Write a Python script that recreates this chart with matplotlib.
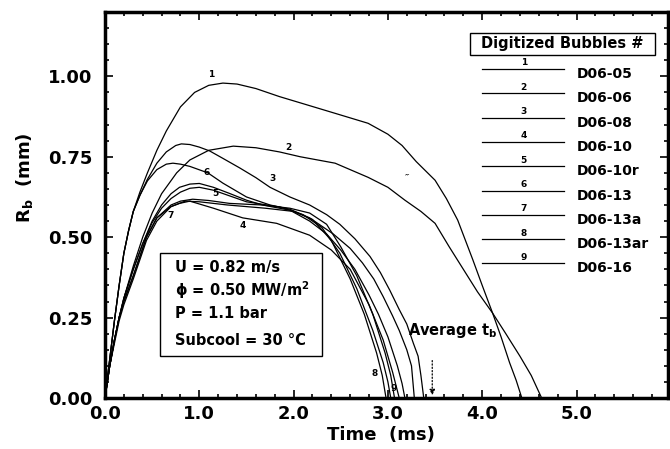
import numpy as np
import matplotlib
matplotlib.use("Agg")
import matplotlib.pyplot as plt
from matplotlib.ticker import MultipleLocator, FormatStrFormatter
from matplotlib.patches import Rectangle
from matplotlib.lines import Line2D

plt.rcParams['font.family'] = ['DejaVu Sans']
plt.rcParams['font.weight'] = 'bold'
plt.rcParams['mathtext.default'] = 'bf'

# ---------- Data ----------
BUBBLE_IDS = ['D06-05', 'D06-06', 'D06-08', 'D06-10', 'D06-10r',
              'D06-13', 'D06-13a', 'D06-13ar', 'D06-16']

t1 = [0, 0.05, 0.1, 0.15, 0.2, 0.25, 0.3, 0.37, 0.45, 0.55, 0.65, 0.8, 0.95, 1.1, 1.25,
      1.4, 1.6, 1.85, 2.1, 2.44, 2.79, 3.0, 3.15, 3.3, 3.5, 3.62, 3.74, 3.9, 4.0, 4.11,
      4.2, 4.29, 4.36, 4.42]
r1 = [0, 0.12, 0.24, 0.35, 0.45, 0.52, 0.58, 0.64, 0.70, 0.77, 0.83, 0.905, 0.95, 0.972, 0.979,
      0.976, 0.962, 0.937, 0.915, 0.885, 0.854, 0.82, 0.785, 0.735, 0.677, 0.62, 0.553, 0.43, 0.35, 0.264,
      0.19, 0.11, 0.055, 0]

t2 = [0, 0.05, 0.1, 0.15, 0.2, 0.3, 0.4, 0.5, 0.6, 0.76, 0.9, 1.1, 1.36, 1.6, 1.85, 2.07,
      2.44, 2.79, 3.0, 3.18, 3.35, 3.5, 3.65, 3.8, 3.95, 4.11, 4.25, 4.4, 4.52, 4.63]
r2 = [0, 0.1, 0.18, 0.25, 0.31, 0.41, 0.50, 0.575, 0.635, 0.70, 0.74, 0.77, 0.783, 0.778, 0.765, 0.75,
      0.73, 0.686, 0.655, 0.615, 0.58, 0.543, 0.47, 0.40, 0.33, 0.264, 0.20, 0.13, 0.07, 0]

t3 = [0, 0.05, 0.1, 0.15, 0.2, 0.25, 0.3, 0.37, 0.45, 0.55, 0.65, 0.75, 0.81, 0.9, 1.0, 1.11,
      1.25, 1.43, 1.6, 1.75, 1.96, 2.17, 2.35, 2.49, 2.65, 2.81, 2.92, 3.02, 3.12, 3.2, 3.27,
      3.32, 3.35, 3.38]
r3 = [0, 0.12, 0.24, 0.35, 0.45, 0.52, 0.58, 0.63, 0.68, 0.73, 0.765, 0.785, 0.79, 0.788, 0.78, 0.768,
      0.745, 0.715, 0.685, 0.655, 0.625, 0.60, 0.57, 0.54, 0.495, 0.44, 0.39, 0.335, 0.275, 0.23, 0.17,
      0.13, 0.07, 0]

t4 = [0, 0.05, 0.1, 0.15, 0.2, 0.3, 0.44, 0.55, 0.7, 0.79, 0.9, 1.15, 1.46, 1.82, 2.17,
      2.4, 2.6, 2.8, 2.95, 3.05, 3.12]
r4 = [0, 0.1, 0.18, 0.25, 0.30, 0.38, 0.50, 0.56, 0.595, 0.605, 0.612, 0.59, 0.56, 0.543, 0.506,
      0.46, 0.40, 0.29, 0.18, 0.08, 0]

t5 = [0, 0.05, 0.1, 0.15, 0.2, 0.3, 0.4, 0.5, 0.6, 0.7, 0.79, 0.9, 1.0, 1.15, 1.32, 1.5,
      1.67, 1.85, 1.96, 2.17, 2.35, 2.5, 2.65, 2.8, 2.9, 3.0, 3.1, 3.15, 3.18]
r5 = [0, 0.1, 0.18, 0.25, 0.31, 0.40, 0.48, 0.55, 0.60, 0.635, 0.655, 0.665, 0.667, 0.655, 0.636, 0.615,
      0.60, 0.59, 0.584, 0.55, 0.51, 0.46, 0.40, 0.32, 0.26, 0.19, 0.10, 0.045, 0]

t6 = [0, 0.05, 0.1, 0.15, 0.2, 0.25, 0.3, 0.37, 0.45, 0.55, 0.65, 0.72, 0.8, 0.9, 1.09, 1.25,
      1.5, 1.75, 1.96, 2.17, 2.42, 2.6, 2.73, 2.85, 2.95, 3.05, 3.12, 3.2, 3.25, 3.28]
r6 = [0, 0.12, 0.24, 0.35, 0.45, 0.52, 0.58, 0.63, 0.675, 0.71, 0.727, 0.73, 0.727, 0.72, 0.70, 0.668,
      0.625, 0.60, 0.587, 0.56, 0.51, 0.465, 0.42, 0.37, 0.315, 0.255, 0.21, 0.15, 0.10, 0]

t7 = [0, 0.05, 0.1, 0.15, 0.2, 0.3, 0.44, 0.55, 0.7, 0.8, 0.93, 1.1, 1.32, 1.67, 1.96, 2.17,
      2.35, 2.5, 2.67, 2.84, 2.97, 3.03, 3.07]
r7 = [0, 0.1, 0.18, 0.25, 0.30, 0.38, 0.50, 0.56, 0.60, 0.612, 0.618, 0.614, 0.605, 0.60, 0.59, 0.575,
      0.54, 0.47, 0.38, 0.26, 0.14, 0.07, 0]

t8 = [0, 0.05, 0.1, 0.15, 0.2, 0.3, 0.44, 0.55, 0.7, 0.85, 1.0, 1.3, 1.7, 2.0, 2.2, 2.4,
      2.6, 2.75, 2.88, 2.94, 2.98]
r8 = [0, 0.1, 0.17, 0.24, 0.29, 0.37, 0.49, 0.55, 0.595, 0.612, 0.61, 0.60, 0.59, 0.58, 0.555, 0.49,
      0.37, 0.26, 0.14, 0.07, 0]

t9 = [0, 0.05, 0.1, 0.15, 0.2, 0.3, 0.4, 0.5, 0.6, 0.7, 0.8, 0.9, 1.0, 1.15, 1.5, 1.85,
      2.1, 2.3, 2.49, 2.67, 2.84, 2.95, 3.0, 3.03]
r9 = [0, 0.1, 0.18, 0.25, 0.31, 0.40, 0.48, 0.545, 0.59, 0.62, 0.64, 0.652, 0.655, 0.646, 0.61, 0.594,
      0.57, 0.53, 0.45, 0.34, 0.21, 0.11, 0.05, 0]

TIMES = [t1, t2, t3, t4, t5, t6, t7, t8, t9]
RADII = [r1, r2, r3, r4, r5, r6, r7, r8, r9]

# curve number labels (t, R)
label_t = [1.13, 1.94, 1.78, 1.46, 1.17, 1.08, 0.70, 2.86, 3.06]
label_r = [1.005, 0.78, 0.683, 0.537, 0.637, 0.70, 0.568, 0.075, 0.028]

AVG_TB = 3.47
COND_LINES = ['U = 0.82 m/s', '$\\phi$ = 0.50 MW/m$^2$', 'P = 1.1 bar', 'Subcool = 30 \u00b0C']

# ---------- Plot ----------
fig = plt.figure(figsize=(6.70, 4.49), dpi=100)
ax = fig.add_axes([105 / 670, 51 / 449, 563 / 670, 386 / 449])

for t, r in zip(TIMES, RADII):
    ax.plot(t, r, color='black', lw=0.9)

for i in range(len(BUBBLE_IDS)):
    ax.text(label_t[i], label_r[i], str(i + 1), fontsize=6.5, ha='center', va='center')
ax.text(3.2, 0.683, '\u2033', fontsize=7, ha='center', va='center', style='italic')

ax.set_xlim(0, 5.97)
ax.set_ylim(0, 1.2)
ax.xaxis.set_major_locator(MultipleLocator(1.0))
ax.xaxis.set_minor_locator(MultipleLocator(0.2))
ax.yaxis.set_major_locator(MultipleLocator(0.25))
ax.yaxis.set_minor_locator(MultipleLocator(0.05))
ax.xaxis.set_major_formatter(FormatStrFormatter('%.1f'))
ax.yaxis.set_major_formatter(FormatStrFormatter('%.2f'))
ax.set_xticks([0, 1, 2, 3, 4, 5])
ax.set_yticks([0, 0.25, 0.5, 0.75, 1.0])
ax.tick_params(which='both', direction='in', top=True, right=True, width=1.2)
ax.tick_params(which='major', length=6, labelsize=13)
ax.tick_params(which='minor', length=3)
ax.tick_params(axis='x', pad=5)
ax.tick_params(axis='y', pad=9)
for s in ax.spines.values():
    s.set_linewidth(2.5)

ax.set_xlabel('Time  (ms)', fontsize=13, fontweight='bold')
ax.set_ylabel('R$_b$  (mm)', fontsize=13, fontweight='bold')
ax.xaxis.set_label_coords(0.49, -0.072)
ax.yaxis.set_label_coords(-0.125, 0.57)

# legend block
ax.add_patch(Rectangle((0.648, 0.889), 0.329, 0.057, transform=ax.transAxes,
                       fill=False, ec='black', lw=1.0))
ax.text(0.8125, 0.9175, 'Digitized Bubbles #', transform=ax.transAxes, fontsize=10.5,
        ha='center', va='center')
for i, name in enumerate(BUBBLE_IDS):
    y = (398 - 69 - 24.3 * i) / 386
    ax.add_line(Line2D([0.670, 0.815], [y, y], transform=ax.transAxes, color='black', lw=0.9))
    ax.text(0.744, y + 0.004, str(i + 1), transform=ax.transAxes, fontsize=6.5,
            ha='center', va='bottom')
    ax.text(0.838, y - 0.013, name, transform=ax.transAxes, fontsize=10, ha='left', va='center')

# conditions box
ax.add_patch(Rectangle((0.0977, 0.109), 0.2875, 0.267, transform=ax.transAxes,
                       fill=False, ec='black', lw=1.0))
for i, line in enumerate(COND_LINES):
    ax.text(0.124, [0.339, 0.280, 0.218, 0.150][i], line, transform=ax.transAxes,
            fontsize=10.5, ha='left', va='center')

# average bubble lifetime
ax.text(0.538, 0.174, 'Average t$_b$', transform=ax.transAxes, fontsize=10.5,
        ha='left', va='center')
ax.annotate('', xy=(AVG_TB, 0.0), xytext=(AVG_TB, 0.125),
            arrowprops=dict(arrowstyle='-|>', color='black', lw=0.9, ls=':',
                            mutation_scale=8))

fig.savefig('out.png', dpi=100)
